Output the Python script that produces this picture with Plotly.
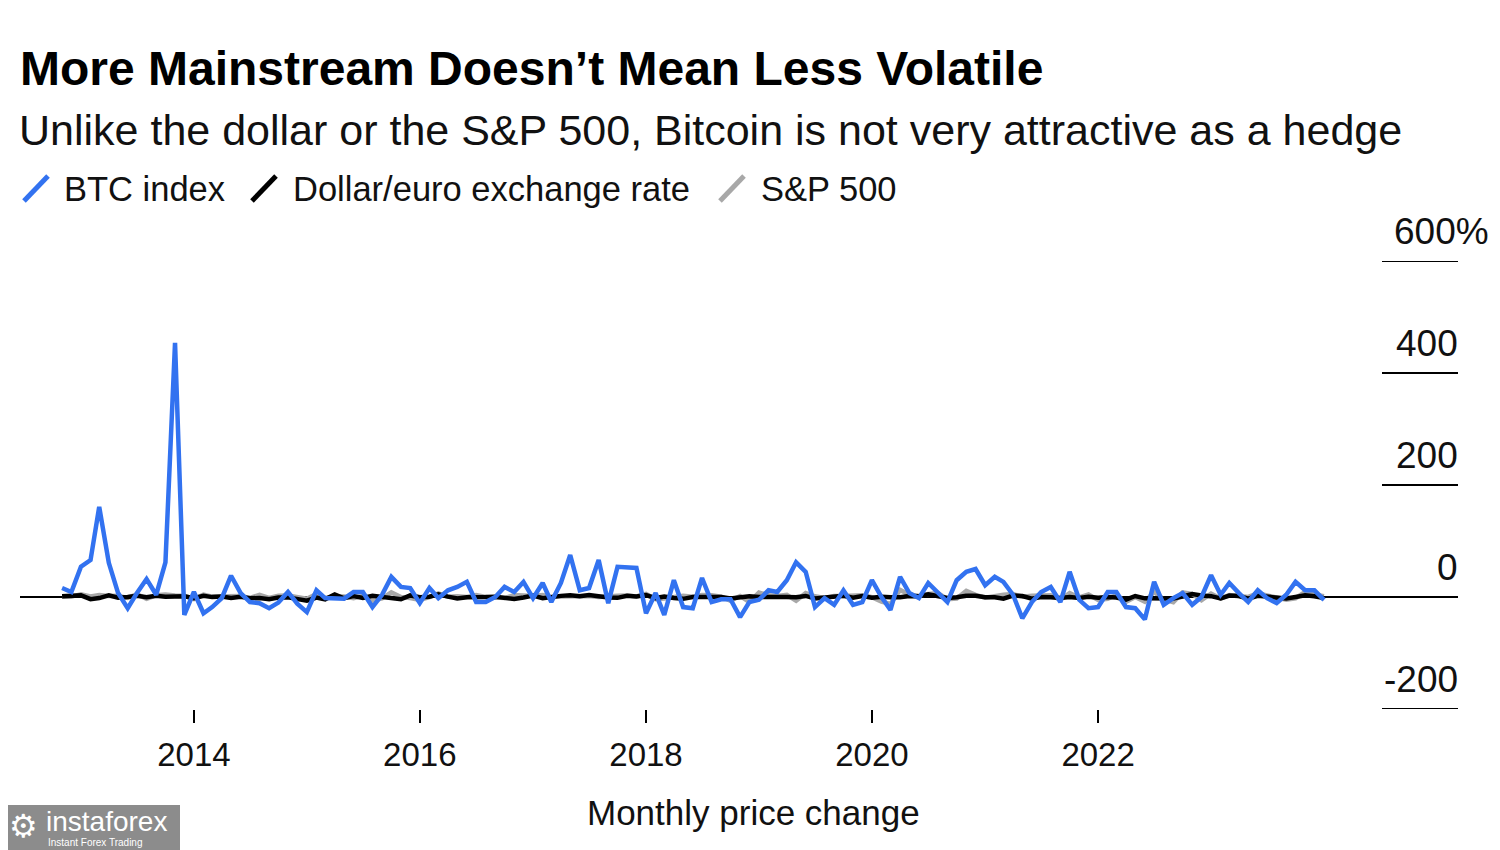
import pandas as pd
import plotly.graph_objects as go

# ---------------- data (monthly % change, Nov 2012 - Jan 2024) ----------------
start_month = "2012-11-01"

btc_index = [
    16, 9,
    54, 66, 161, 61, 7, -20, 7, 32, 4, 62, 454, -32,
    9, -29, -18, -2, 38, 7, -9, -11, -20, -10, 9, -12,
    -27, 12, -2, -2, -3, 9, 9, -18, 4, 36, 18, 16,
    -11, 16, -2, 12, 18, 27, -9, -9, 0, 18, 9, 27,
    -2, 25, -9, 25, 75, 12, 16, 66, -11, 54, 53, 52,
    -29, 7, -32, 30, -18, -20, 34, -9, -4, -4, -36, -9,
    -5, 12, 9, 30, 62, 45, -18, -2, -14, 12, -14, -9,
    30, 0, -23, 36, 7, -2, 25, 7, -9, 30, 45, 50,
    21, 36, 27, 4, -38, -9, 9, 18, -9, 45, -5, -20,
    -18, 9, 9, -18, -20, -40, 27, -14, -2, 7, -14, 0,
    39, 4, 25, 7, -9, 12, -2, -11, 4, 27, 12, 12,
    -5,
]

dollar_euro = [
    1.5, 1.6,
    2.9, -3.8, -1.9, 2.8, -1.4, 0.1, 2.2, -0.6, 2.3, 0.4, 0.1, 1.3,
    -2.0, 2.3, -0.2, 0.7, -1.8, 0.4, -2.1, -1.9, -3.9, -0.8, -0.7, -2.8,
    -6.7, -0.9, -4.1, 4.6, -2.2, 1.5, -1.7, 2.0, -0.3, -1.6, -4.0, 2.8,
    -0.3, 0.4, 4.6, 0.6, -2.8, -0.3, 0.7, -0.1, 0.6, -2.3, -3.6, -0.8,
    2.6, -2.0, 0.8, 2.0, 3.2, 1.5, 3.5, 0.6, -0.7, -1.5, 2.3, 0.9,
    3.5, -1.9, 1.0, -1.9, -3.3, 0.0, 0.2, -0.8, 0.0, -2.6, 0.0, 1.2,
    0.0, -0.6, -1.4, 0.0, -0.4, 1.9, -2.5, -0.8, -0.9, 2.2, -1.2, 1.9,
    -1.2, 0.6, -0.3, -0.4, 1.7, 1.2, 4.8, 1.3, -1.9, -0.6, 2.4, 2.4,
    -0.6, -0.6, -2.9, 2.5, 1.6, -3.0, 0.1, -0.5, -1.9, -0.2, -1.9, 0.3,
    -1.2, 0.0, -1.0, -4.7, 1.8, -2.4, -2.5, -1.6, -2.6, 0.9, 5.3, 2.8,
    1.5, -2.7, 2.5, 1.6, -3.1, 2.1, 0.9, -1.4, -2.5, 0.1, 3.0, 1.4,
    -2.0,
]

sp500 = [
    0.3, 0.7,
    5.0, 1.1, 3.6, 1.8, 2.1, -1.5, 4.9, -3.1, 3.0, 4.5, 2.8, 2.4,
    -3.6, 4.3, 0.7, 0.6, 2.1, 1.9, -1.5, 3.8, -1.6, 2.3, 2.5, -0.4,
    -3.1, 5.5, -1.7, 0.9, 1.0, -2.1, 2.0, -6.3, -2.6, 8.3, 0.1, -1.8,
    -5.1, -0.4, 6.6, 0.3, 1.5, 0.1, 3.6, -0.1, -0.1, -1.9, 3.4, 1.8,
    1.8, 3.7, 0.0, 0.9, 1.2, 0.5, 1.9, 0.1, 1.9, 2.2, 2.8, 1.0,
    5.6, -3.9, -2.7, 0.3, 2.2, 0.5, 3.6, 3.0, 0.4, -6.9, 1.8, -9.2,
    7.9, 3.0, 1.8, 3.9, -6.6, 6.9, 1.3, -1.8, 1.7, 2.0, 3.4, 2.9,
    -0.2, -8.4, -12.5, 12.7, 4.5, 1.8, 5.5, 7.0, -3.9, -2.8, 10.8, 3.7,
    -1.1, 2.6, 4.2, 5.2, 0.5, 2.2, 2.3, 2.9, -4.8, 6.9, -0.8, 4.4,
    -5.3, -3.1, 3.6, -8.8, 0.0, -8.4, 9.1, -4.2, -9.3, 8.0, 5.4, -5.9,
    6.2, -2.6, 3.5, 1.5, 0.2, 6.5, 3.1, -1.8, -4.9, -2.2, 8.9, 4.4,
    1.6,
]

series_names = ["BTC index", "Dollar/euro exchange rate", "S&P 500"]
series_colors = ["#3272f0", "#000000", "#a8a8a8"]

y_tick_values = [600, 400, 200, 0, -200]
y_tick_labels = ["600%", "400", "200", "0", "-200"]
x_tick_values = ["2014-01-01", "2016-01-01", "2018-01-01", "2020-01-01", "2022-01-01"]
x_tick_labels = ["2014", "2016", "2018", "2020", "2022"]

title = "More Mainstream Doesn\u2019t Mean Less Volatile"
subtitle = "Unlike the dollar or the S&P 500, Bitcoin is not very attractive as a hedge"
axis_caption = "Monthly price change"

dates = pd.date_range(start_month, periods=len(btc_index), freq="MS")

# ---------------- layout geometry (page pixels) ----------------
# the html body has an 8px margin, so the figure is drawn 8px smaller and
# its origin sits at page (8, 8)
OFF = 8
W, H = 1500 - OFF, 850 - OFF
PL, PR, PT, PB = 20, 1458, 261, 709   # plot area in page pixels


def px_x(p):
    return (p - PL) / (PR - PL)


def px_y(p):
    return (PB - p) / (PB - PT)


FONT = "Liberation Sans, Arial, Helvetica, sans-serif"
TXT = "#111111"

fig = go.Figure()
# draw order: S&P (bottom), dollar/euro, BTC (top)
for vals, name, color in [
    (sp500, series_names[2], series_colors[2]),
    (dollar_euro, series_names[1], series_colors[1]),
    (btc_index, series_names[0], series_colors[0]),
]:
    fig.add_trace(go.Scatter(
        x=dates, y=vals, name=name, mode="lines",
        line=dict(color=color, width=4.5, shape="linear"),
        showlegend=False, hoverinfo="x+y+name",
    ))

annotations = []
shapes = []

# Title / subtitle
annotations.append(dict(x=px_x(18), y=px_y(68), xref="paper", yref="paper",
                        xanchor="left", yanchor="middle", showarrow=False,
                        text="<b>" + title + "</b>",
                        font=dict(family=FONT, size=48, color="#000000")))
annotations.append(dict(x=px_x(17), y=px_y(130), xref="paper", yref="paper",
                        xanchor="left", yanchor="middle", showarrow=False,
                        text=subtitle,
                        font=dict(family=FONT, size=43, color=TXT)))

# Custom legend with diagonal slash icons
legend_items = [
    (series_names[0], series_colors[0], 22, 64),
    (series_names[1], series_colors[1], 250, 293),
    (series_names[2], series_colors[2], 718, 761),
]
for name, color, icon_x, text_x in legend_items:
    shapes.append(dict(type="line", xref="paper", yref="paper",
                       x0=px_x(icon_x + 2), y0=px_y(201),
                       x1=px_x(icon_x + 26), y1=px_y(176),
                       line=dict(color=color, width=5)))
    annotations.append(dict(x=px_x(text_x - 2), y=px_y(189), xref="paper", yref="paper",
                            xanchor="left", yanchor="middle", showarrow=False,
                            text=name, font=dict(family=FONT, size=34.5, color=TXT)))

# Y tick labels above short rules at the right
for v, lab in zip(y_tick_values, y_tick_labels):
    shapes.append(dict(type="line", xref="paper", yref="y",
                       x0=px_x(1382), x1=1, y0=v, y1=v,
                       line=dict(color="#000000", width=2), layer="below"))
    annotations.append(dict(x=1, y=v, xref="paper", yref="y",
                            xanchor="right", yanchor="middle", showarrow=False,
                            yshift=30, xshift=(33 if lab.endswith("%") else 2),
                            text=lab, font=dict(family=FONT, size=37, color=TXT)))

# axis caption
annotations.append(dict(x=px_x(753), y=px_y(812), xref="paper", yref="paper",
                        xanchor="center", yanchor="middle", showarrow=False,
                        text=axis_caption, font=dict(family=FONT, size=35, color=TXT)))

# watermark box (bottom-left)
shapes.append(dict(type="rect", xref="paper", yref="paper",
                   x0=px_x(0), x1=px_x(180), y0=px_y(852), y1=px_y(805),
                   fillcolor="#8c8c8c", line=dict(width=0), layer="above"))
annotations.append(dict(x=px_x(7), y=px_y(826), xref="paper", yref="paper",
                        xanchor="left", yanchor="middle", showarrow=False,
                        text="\u2699", font=dict(family="DejaVu Sans, sans-serif", size=32, color="#ffffff")))
annotations.append(dict(x=px_x(44), y=px_y(821), xref="paper", yref="paper",
                        xanchor="left", yanchor="middle", showarrow=False,
                        text="instaforex", font=dict(family=FONT, size=28, color="#ffffff")))
annotations.append(dict(x=px_x(46), y=px_y(842), xref="paper", yref="paper",
                        xanchor="left", yanchor="middle", showarrow=False,
                        text="Instant Forex Trading", font=dict(family=FONT, size=10, color="#ffffff")))

fig.update_layout(
    width=W, height=H,
    margin=dict(l=PL - OFF, r=(W + OFF) - PR, t=PT - OFF, b=(H + OFF) - PB, pad=0),
    paper_bgcolor="white", plot_bgcolor="white",
    font=dict(family=FONT, color=TXT, size=33),
    showlegend=False,
    annotations=annotations,
    shapes=shapes,
    xaxis=dict(
        type="date", range=["2012-06-18", "2025-03-09"],
        tickmode="array", tickvals=x_tick_values, ticktext=x_tick_labels,
        ticks="outside", ticklen=13, tickwidth=2, tickcolor="#000000",
        showgrid=False, showline=False, zeroline=False,
        tickfont=dict(family=FONT, size=33, color=TXT),
        ticklabelstandoff=3,
    ),
    yaxis=dict(
        range=[-200, 600], showgrid=False, showticklabels=False, ticks="",
        zeroline=True, zerolinecolor="#000000", zerolinewidth=2,
        showline=False,
    ),
)

fig.write_html("out.html")
